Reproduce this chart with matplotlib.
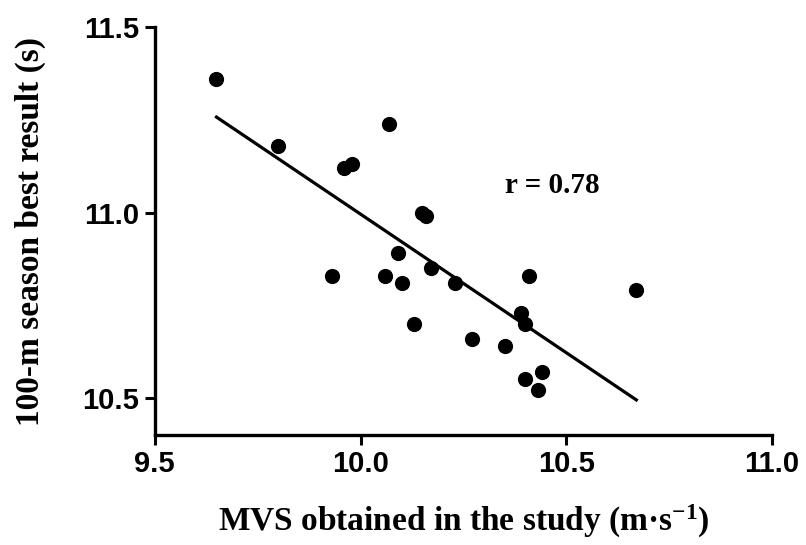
import numpy as np
import matplotlib
matplotlib.use("Agg")
import matplotlib.pyplot as plt

# MVS (m/s) vs 100-m season best (s)
mvs = [9.65, 9.80, 9.96, 9.98, 10.07, 10.15, 10.16, 9.93, 10.09, 10.06,
       10.10, 10.17, 10.23, 10.13, 10.27, 10.41, 10.67, 10.39, 10.40,
       10.35, 10.44, 10.40, 10.43]
best = [11.36, 11.18, 11.12, 11.13, 11.24, 11.00, 10.99, 10.83, 10.89, 10.83,
        10.81, 10.85, 10.81, 10.70, 10.66, 10.83, 10.79, 10.73, 10.70,
        10.64, 10.57, 10.55, 10.52]
x_ticks = [9.5, 10.0, 10.5, 11.0]
y_ticks = [10.5, 11.0, 11.5]
r_label = "r = 0.78"

plt.rcParams['mathtext.fontset'] = 'custom'
plt.rcParams['mathtext.rm'] = 'Liberation Serif:bold'
plt.rcParams['mathtext.it'] = 'Liberation Serif:bold'
plt.rcParams['mathtext.default'] = 'rm'

fig = plt.figure(figsize=(8.06, 5.45), dpi=100)
ax = fig.add_axes([0.192, 0.202, 0.766, 0.748])

ax.scatter(mvs, best, s=120, color='black', zorder=3, linewidths=0)

# least-squares line over the data range
slope, icpt = np.polyfit(mvs, best, 1)
xs = np.array([min(mvs), max(mvs)])
ax.plot(xs, slope * xs + icpt, color='black', lw=2.3)

ax.text(10.35, 11.073, r_label, family='Liberation Serif', fontweight='bold',
        fontsize=21, va='center', ha='left')

ax.set_xlim(9.5, 11.0)
ax.set_ylim(10.4, 11.5)
ax.set_xticks(x_ticks)
ax.set_yticks(y_ticks)
ax.set_xticklabels([f"{v:.1f}" for v in x_ticks], family='Liberation Sans',
                   fontweight='bold', fontsize=21)
ax.set_yticklabels([f"{v:.1f}" for v in y_ticks], family='Liberation Sans',
                   fontweight='bold', fontsize=21)
ax.tick_params(direction='out', length=7, width=2.2, pad=4)

for side in ['top', 'right']:
    ax.spines[side].set_visible(False)
for side in ['left', 'bottom']:
    ax.spines[side].set_linewidth(2.4)

ax.set_xlabel(r"MVS obtained in the study (m·s$^{-1}$)", family='Liberation Serif',
              fontweight='bold', fontsize=24, labelpad=18)
ax.set_ylabel("100-m season best result (s)", family='Liberation Serif',
              fontweight='bold', fontsize=24, labelpad=26)

plt.savefig("out.png", dpi=100)
